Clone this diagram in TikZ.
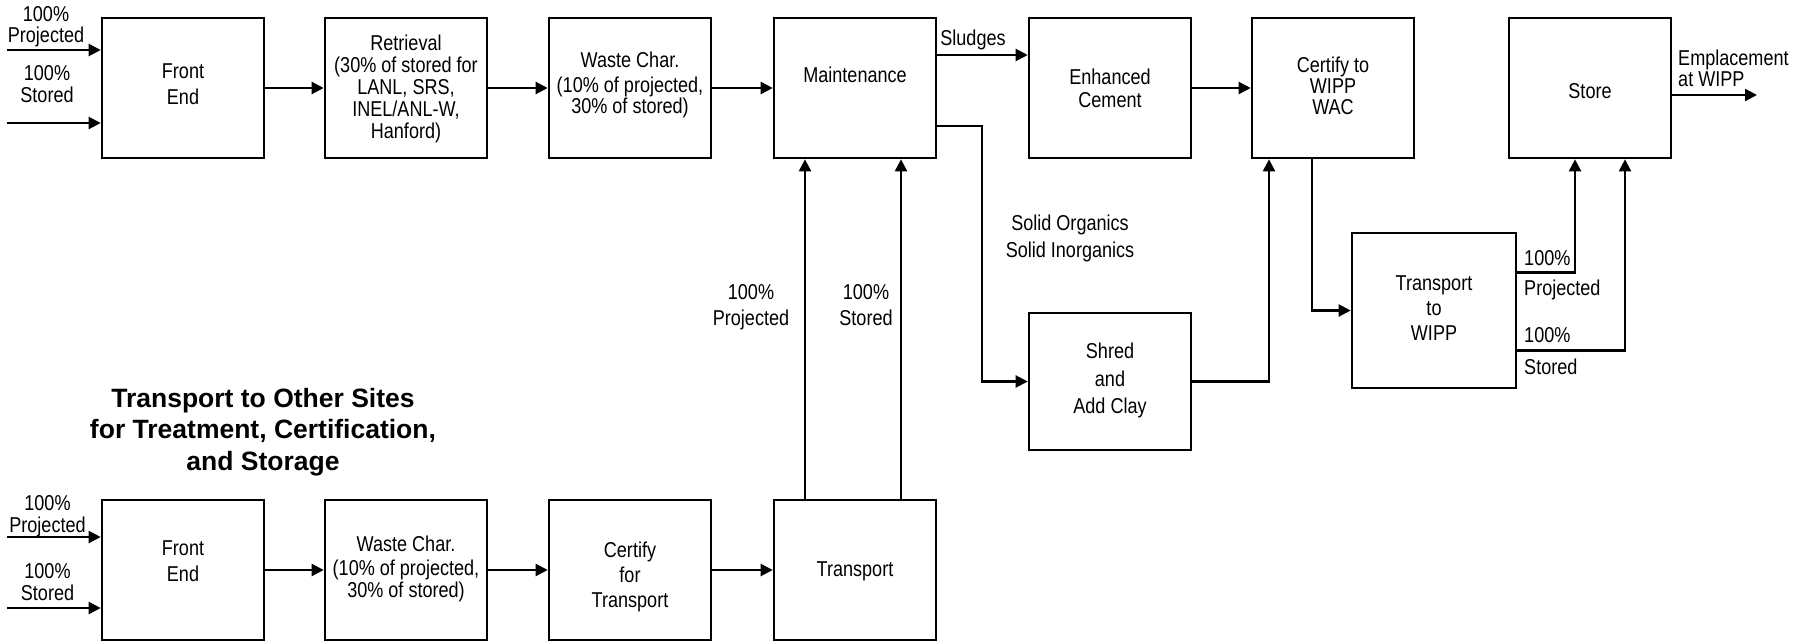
\documentclass[tikz,border=0pt]{standalone}
\usepackage{fontspec}
\setmainfont{Liberation Sans}[FakeStretch=0.84]
\newfontfamily\ttlfont{Liberation Sans}
\usetikzlibrary{arrows.meta,calc}
\begin{document}
\begin{tikzpicture}[x=1pt,y=-1pt,
  blk/.style={draw, line width=2.6pt, minimum width=162pt, minimum height=140pt, inner sep=0pt},
  txt/.style={align=center, inner sep=0pt, font=\fontsize{21.5}{24}\selectfont},
  arr/.style={line width=2.2pt, -{Triangle[length=12pt,width=12pt]}},
  ln/.style={line width=2.2pt}]
\useasboundingbox (0,0) rectangle (1817,643);

% ---------- top row ----------
\node[blk] (fe)    at (183,88)  {};
\node[blk] (ret)   at (406,88)  {};
\node[blk] (wc)    at (630,88)  {};
\node[blk] (mnt)   at (855,88)  {};
\node[blk] (enh)   at (1110,88) {};
\node[blk] (cert)  at (1333,88) {};
\node[blk] (store) at (1590,88) {};
\node[blk, minimum width=164pt, minimum height=155pt] (ttw) at (1434,310.5) {};
\node[blk, minimum height=137pt] (shr) at (1110,381.5) {};

% ---------- bottom row ----------
\node[blk] (fe2) at (183,570) {};
\node[blk] (wc2) at (406,570) {};
\node[blk] (ct)  at (630,570) {};
\node[blk] (tr)  at (855,570) {};

% ---------- box texts ----------
\node[txt, font=\fontsize{21.5}{26}\selectfont] (feT) at (183,84) {Front\\End};
\node[txt, font=\fontsize{21.5}{22}\selectfont] (retT) at (406,89.3) {Retrieval\\(30\% of stored for\\LANL, SRS,\\INEL/ANL-W,\\Hanford)};
\node[txt, font=\fontsize{21.5}{21}\selectfont] (wcT) at (630,85.25) {Waste Char.\\[4pt](10\% of projected,\\30\% of stored)};
\node[txt] (mntT) at (855,75) {Maintenance};
\node[txt, font=\fontsize{21.5}{23}\selectfont] (enhT) at (1110,88.5) {Enhanced\\Cement};
\node[txt, font=\fontsize{21.5}{21}\selectfont] (certT) at (1333,86) {Certify to\\WIPP\\WAC};
\node[txt] (storeT) at (1590,91) {Store};
\node[txt, font=\fontsize{21.5}{25}\selectfont] (ttwT) at (1434,308) {Transport\\to\\WIPP};
\node[txt, font=\fontsize{21.5}{27.5}\selectfont] (shrT) at (1110,380.75) {Shred\\and\\Add Clay};

\node[txt, font=\fontsize{21.5}{26}\selectfont] (fe2T) at (183,561) {Front\\End};
\node[txt, font=\fontsize{21.5}{22}\selectfont] (wc2T) at (406,568.75) {Waste Char.\\[2pt](10\% of projected,\\30\% of stored)};
\node[txt, font=\fontsize{21.5}{25}\selectfont] (ctT) at (630,577.25) {Certify\\for\\Transport};
\node[txt] (trT) at (855,571) {Transport};

% ---------- title ----------
\node[align=center, inner sep=0pt, font=\ttlfont\bfseries\fontsize{26.5}{31.5}\selectfont] (title) at (263,432) {Transport to Other Sites\\for Treatment, Certification,\\and Storage};

% ---------- labels ----------
\node[txt, font=\fontsize{21.5}{21}\selectfont] (lP1) at (46,26.75) {100\%\\Projected};
\node[txt, font=\fontsize{21.5}{22}\selectfont] (lS1) at (47,84) {100\%\\Stored};
\node[txt, font=\fontsize{21.5}{22}\selectfont] (lP2) at (47.5,516.25) {100\%\\Projected};
\node[txt, font=\fontsize{21.5}{22}\selectfont] (lS2) at (47.5,582) {100\%\\Stored};
\node[txt] (sludge) at (973,40) {Sludges};
\node[txt, font=\fontsize{21.5}{27}\selectfont] (solid) at (1070,238.75) {Solid Organics\\Solid Inorganics};
\node[txt, font=\fontsize{21.5}{26}\selectfont] (lPm) at (751,307.25) {100\%\\Projected};
\node[txt, font=\fontsize{21.5}{26}\selectfont] (lSm) at (866,305) {100\%\\Stored};
\node[txt, align=left, anchor=west, font=\fontsize{21.5}{30}\selectfont] (lPw) at (1524,275.25) {100\%\\Projected};
\node[txt, align=left, anchor=west, font=\fontsize{21.5}{32}\selectfont] (lSw) at (1524,351) {100\%\\Stored};
\node[txt, align=left, anchor=west, font=\fontsize{21.5}{21}\selectfont] (empl) at (1678,68.5) {Emplacement\\at WIPP};

% ---------- free ends ----------
\coordinate (pin1) at (7,50);
\coordinate (sin1) at (7,123);
\coordinate (pin2) at (7,537);
\coordinate (sin2) at (7,608);
\coordinate (outE) at (1757,95);

% ---------- connectors: top ----------
\draw[arr] (pin1) -- (pin1 -| fe.west);
\draw[arr] (sin1) -- (sin1 -| fe.west);
\draw[arr] (fe.east) -- (ret.west);
\draw[arr] (ret.east) -- (wc.west);
\draw[arr] (wc.east) -- (mnt.west);
\draw[arr] ([yshift=33pt]mnt.east) -- ([yshift=33pt]enh.west);
\draw[arr] (enh.east) -- (cert.west);
\draw[arr] ([yshift=-38pt]mnt.east) -- ++(45,0) |- (shr.west);
\draw[arr] (shr.east) -| ([xshift=-64pt]cert.south);
\draw[arr] ([xshift=-21pt]cert.south) |- (ttw.west);
\draw[arr] ([yshift=38pt]ttw.east) -| ([xshift=-15pt]store.south);
\draw[arr] ([yshift=-40pt]ttw.east) -| ([xshift=35pt]store.south);
\draw[arr] ([yshift=-7pt]store.east) -- (outE);

% ---------- connectors: bottom ----------
\draw[arr] (pin2) -- (pin2 -| fe2.west);
\draw[arr] (sin2) -- (sin2 -| fe2.west);
\draw[arr] (fe2.east) -- (wc2.west);
\draw[arr] (wc2.east) -- (ct.west);
\draw[arr] (ct.east) -- (tr.west);
\draw[arr] ([xshift=-50pt]tr.north) -- ([xshift=-50pt]mnt.south);
\draw[arr] ([xshift=46pt]tr.north) -- ([xshift=46pt]mnt.south);
\end{tikzpicture}
\end{document}
